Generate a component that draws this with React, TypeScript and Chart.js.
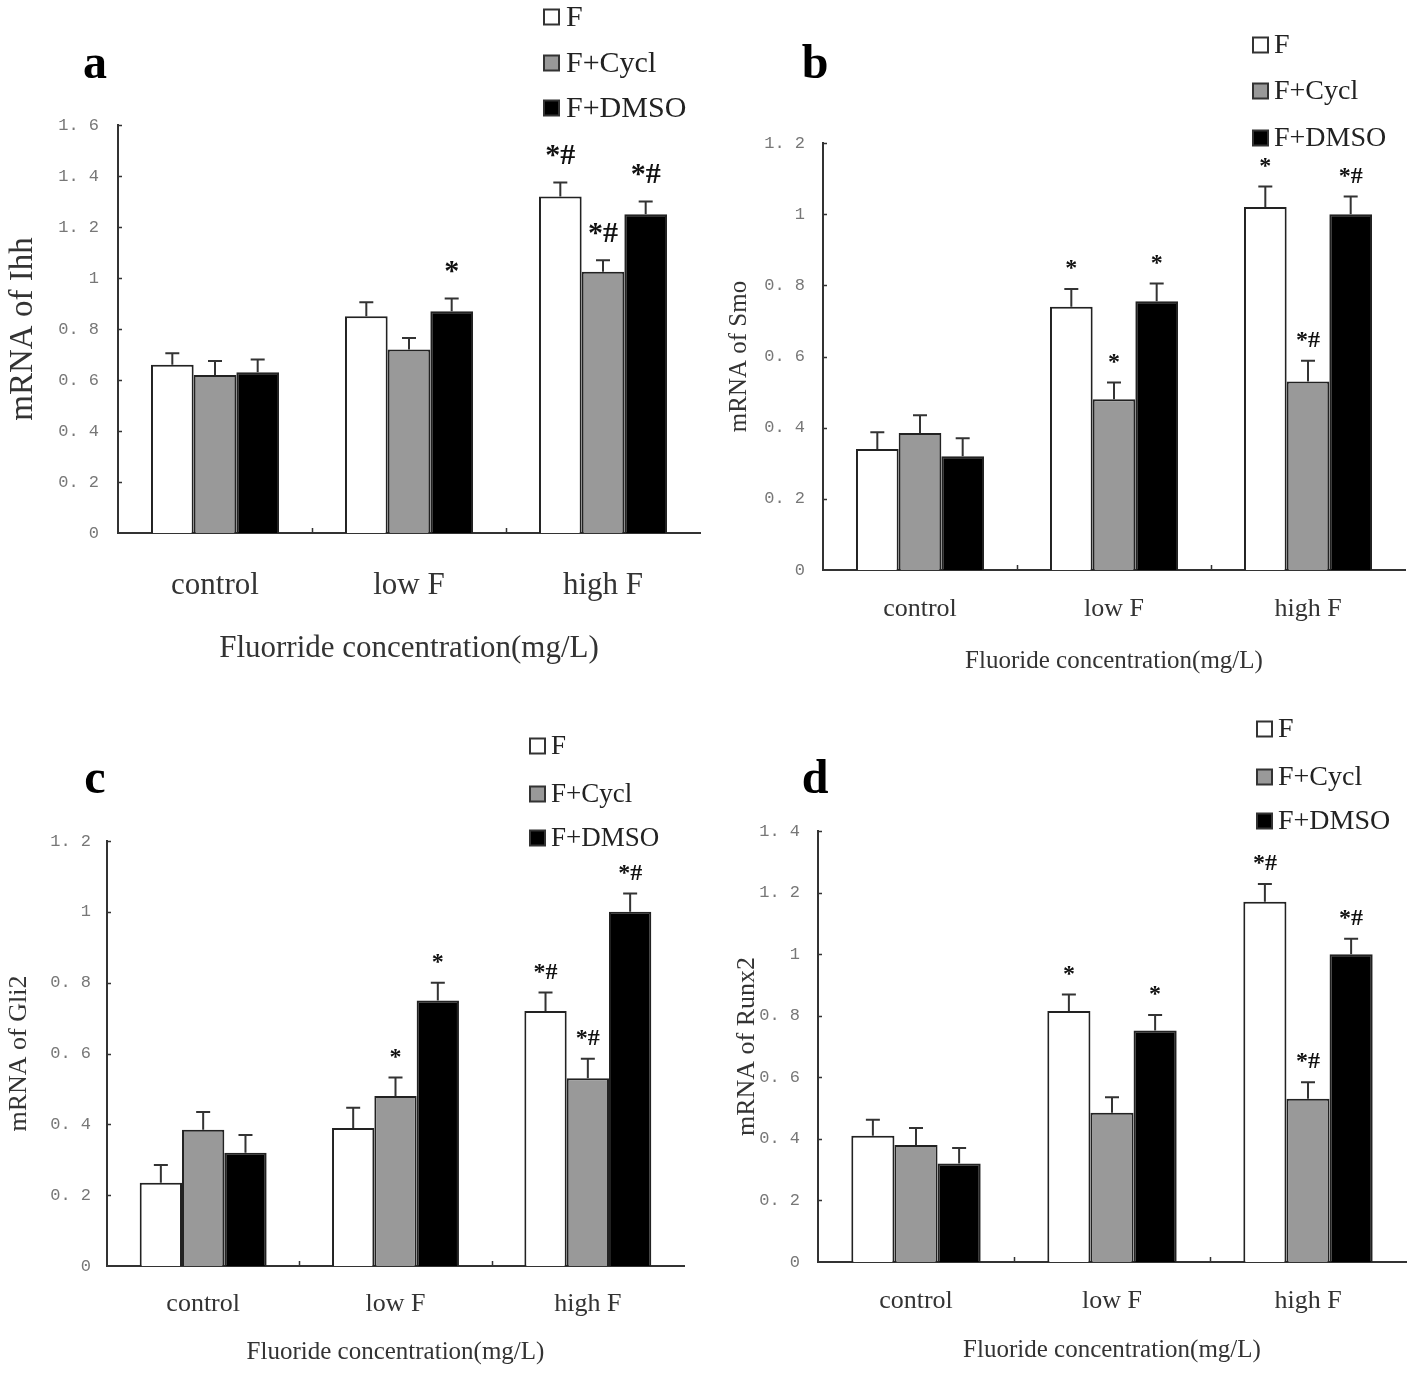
import React, { useEffect, useRef } from "react";
import { Chart, registerables } from "chart.js";

Chart.register(...registerables);

// ---------- data ----------
const categories = ["control", "low F", "high F"];
const seriesLabels = ["F", "F+Cycl", "F+DMSO"];
const seriesColors = ["#ffffff", "#999999", "#000000"];

// a: Ihh
const ihhF = [0.66, 0.85, 1.32];
const ihhCycl = [0.62, 0.72, 1.025];
const ihhDMSO = [0.63, 0.87, 1.25];
const ihhErrF = [0.045, 0.055, 0.055];
const ihhErrCycl = [0.055, 0.045, 0.045];
const ihhErrDMSO = [0.05, 0.05, 0.05];
const ihhMarksF = ["", "", "*#"];
const ihhMarksCycl = ["", "", "*#"];
const ihhMarksDMSO = ["", "*", "*#"];

// b: Smo
const smoF = [0.34, 0.74, 1.02];
const smoCycl = [0.385, 0.48, 0.53];
const smoDMSO = [0.32, 0.755, 1.0];
const smoErrF = [0.047, 0.05, 0.058];
const smoErrCycl = [0.05, 0.047, 0.058];
const smoErrDMSO = [0.05, 0.05, 0.05];
const smoMarksF = ["", "*", "*"];
const smoMarksCycl = ["", "*", "*#"];
const smoMarksDMSO = ["", "*", "*#"];

// c: Gli2
const gli2F = [0.235, 0.39, 0.72];
const gli2Cycl = [0.385, 0.48, 0.53];
const gli2DMSO = [0.32, 0.75, 1.0];
const gli2ErrF = [0.05, 0.057, 0.052];
const gli2ErrCycl = [0.05, 0.052, 0.055];
const gli2ErrDMSO = [0.05, 0.05, 0.052];
const gli2MarksF = ["", "", "*#"];
const gli2MarksCycl = ["", "*", "*#"];
const gli2MarksDMSO = ["", "*", "*#"];

// d: Runx2
const runx2F = [0.41, 0.815, 1.17];
const runx2Cycl = [0.38, 0.485, 0.53];
const runx2DMSO = [0.32, 0.752, 1.0];
const runx2ErrF = [0.052, 0.054, 0.058];
const runx2ErrCycl = [0.055, 0.05, 0.054];
const runx2ErrDMSO = [0.05, 0.05, 0.05];
const runx2MarksF = ["", "*", "*#"];
const runx2MarksCycl = ["", "", "*#"];
const runx2MarksDMSO = ["", "*", "*#"];

const yMaxA = 1.6;
const yMaxB = 1.2;
const yMaxC = 1.2;
const yMaxD = 1.4;
const yStep = 0.2;

// ---------- layout / style ----------
const SERIF = "'Liberation Serif', 'Times New Roman', serif";
const MONO = "'Liberation Mono', 'DejaVu Sans Mono', monospace";
const PW = 709;
const PH = 687;

type PanelCfg = {
  letter: string;
  left: number; top: number;
  area: { left: number; top: number; right: number; bottom: number };
  yMax: number;
  yTitle: string; yTitleSize: number; yTitlePad: number;
  yTickPad: number;
  xTickSize: number; xTickPad: number;
  xTitle: string; xTitleSize: number; xTitlePad: number;
  letterX: number; letterY: number;
  legendBoxX: number; legendTextX: number; legendRows: number[]; legendSize: number;
  markSize: number; markOffset: number;
  values: number[][]; errors: number[][]; marks: string[][];
};

const panels: PanelCfg[] = [
  {
    letter: "a", left: 0, top: 0,
    area: { left: 118, top: 125, right: 700, bottom: 533 },
    yMax: yMaxA,
    yTitle: "mRNA of Ihh", yTitleSize: 33, yTitlePad: 4,
    yTickPad: 19,
    xTickSize: 31, xTickPad: 34,
    xTitle: "Fluorride concentration(mg/L)", xTitleSize: 31, xTitlePad: 20,
    letterX: 95, letterY: 78,
    legendBoxX: 544, legendTextX: 566, legendRows: [17, 63, 108], legendSize: 30,
    markSize: 30, markOffset: 26,
    values: [ihhF, ihhCycl, ihhDMSO],
    errors: [ihhErrF, ihhErrCycl, ihhErrDMSO],
    marks: [ihhMarksF, ihhMarksCycl, ihhMarksDMSO],
  },
  {
    letter: "b", left: 709, top: 0,
    area: { left: 114, top: 143, right: 696, bottom: 570 },
    yMax: yMaxB,
    yTitle: "mRNA of Smo", yTitleSize: 25, yTitlePad: 15,
    yTickPad: 18,
    xTickSize: 26, xTickPad: 24,
    xTitle: "Fluoride concentration(mg/L)", xTitleSize: 25, xTitlePad: 11,
    letterX: 106, letterY: 78,
    legendBoxX: 544, legendTextX: 565, legendRows: [45, 91, 138], legendSize: 28,
    markSize: 24, markOffset: 20,
    values: [smoF, smoCycl, smoDMSO],
    errors: [smoErrF, smoErrCycl, smoErrDMSO],
    marks: [smoMarksF, smoMarksCycl, smoMarksDMSO],
  },
  {
    letter: "c", left: 0, top: 687,
    area: { left: 107, top: 154, right: 684, bottom: 579 },
    yMax: yMaxC,
    yTitle: "mRNA of Gli2", yTitleSize: 26, yTitlePad: 4,
    yTickPad: 16,
    xTickSize: 26, xTickPad: 23,
    xTitle: "Fluoride concentration(mg/L)", xTitleSize: 25, xTitlePad: 7,
    letterX: 95, letterY: 106,
    legendBoxX: 530, legendTextX: 551, legendRows: [59, 107, 151], legendSize: 27,
    markSize: 24, markOffset: 20,
    values: [gli2F, gli2Cycl, gli2DMSO],
    errors: [gli2ErrF, gli2ErrCycl, gli2ErrDMSO],
    marks: [gli2MarksF, gli2MarksCycl, gli2MarksDMSO],
  },
  {
    letter: "d", left: 709, top: 687,
    area: { left: 109, top: 144, right: 697, bottom: 575 },
    yMax: yMaxD,
    yTitle: "mRNA of Runx2", yTitleSize: 26, yTitlePad: 23,
    yTickPad: 18,
    xTickSize: 26, xTickPad: 24,
    xTitle: "Fluoride concentration(mg/L)", xTitleSize: 25, xTitlePad: 9,
    letterX: 106, letterY: 106,
    legendBoxX: 548, legendTextX: 569, legendRows: [42, 90, 134], legendSize: 28,
    markSize: 24, markOffset: 20,
    values: [runx2F, runx2Cycl, runx2DMSO],
    errors: [runx2ErrF, runx2ErrCycl, runx2ErrDMSO],
    marks: [runx2MarksF, runx2MarksCycl, runx2MarksDMSO],
  },
];

function fmtTick(v: number): string {
  if (Math.abs(v) < 1e-9) return "0";
  if (Math.abs(v - Math.round(v)) < 1e-9) return String(Math.round(v));
  return v.toFixed(1).replace(".", ". ");
}

function Panel({ cfg }: { cfg: PanelCfg }) {
  const ref = useRef<HTMLCanvasElement | null>(null);

  useEffect(() => {
    if (!ref.current) return;
    const a = cfg.area;

    const decor = {
      id: "decor_" + cfg.letter,
      afterDatasetsDraw(chart: any) {
        const ctx = chart.ctx as CanvasRenderingContext2D;
        const xs = chart.scales.x;
        const ys = chart.scales.y;
        ctx.save();
        // error bars + significance marks
        chart.data.datasets.forEach((ds: any, di: number) => {
          const meta = chart.getDatasetMeta(di);
          meta.data.forEach((bar: any, i: number) => {
            const v = ds.data[i] as number;
            const e = cfg.errors[di][i];
            const pTop = ys.getPixelForValue(v);
            const pCap = ys.getPixelForValue(v + e);
            ctx.strokeStyle = "#333";
            ctx.lineWidth = 2;
            ctx.beginPath();
            ctx.moveTo(bar.x, pTop);
            ctx.lineTo(bar.x, pCap);
            ctx.moveTo(bar.x - 7, pCap);
            ctx.lineTo(bar.x + 7, pCap);
            ctx.stroke();
            const m = cfg.marks[di][i];
            if (m) {
              ctx.fillStyle = "#111";
              ctx.font = `bold ${cfg.markSize}px ${SERIF}`;
              ctx.textAlign = "center";
              ctx.textBaseline = "middle";
              ctx.fillText(m, bar.x, pCap - cfg.markOffset);
            }
          });
        });
        // inner tick marks on axes
        ctx.strokeStyle = "#333";
        ctx.lineWidth = 1.5;
        ctx.beginPath();
        ys.ticks.forEach((t: any) => {
          if (t.value <= 0) return;
          const py = Math.round(ys.getPixelForValue(t.value)) + 0.5;
          ctx.moveTo(chart.chartArea.left, py);
          ctx.lineTo(chart.chartArea.left + 4, py);
        });
        for (let k = 1; k < categories.length; k++) {
          const px = Math.round(xs.getPixelForValue(k - 0.5)) + 0.5;
          ctx.moveTo(px, chart.chartArea.bottom);
          ctx.lineTo(px, chart.chartArea.bottom - 5);
        }
        ctx.stroke();
        // legend
        chart.data.datasets.forEach((ds: any, di: number) => {
          const ry = cfg.legendRows[di];
          ctx.fillStyle = ds.backgroundColor;
          ctx.fillRect(cfg.legendBoxX, ry - 7.5, 15, 15);
          ctx.strokeStyle = "#333";
          ctx.lineWidth = 2;
          ctx.strokeRect(cfg.legendBoxX, ry - 7.5, 15, 15);
          ctx.fillStyle = "#222";
          ctx.font = `${cfg.legendSize}px ${SERIF}`;
          ctx.textAlign = "left";
          ctx.textBaseline = "middle";
          ctx.fillText(ds.label, cfg.legendTextX, ry + 1);
        });
        // panel letter
        ctx.fillStyle = "#000";
        ctx.font = `bold 48px ${SERIF}`;
        ctx.textAlign = "center";
        ctx.textBaseline = "alphabetic";
        ctx.fillText(cfg.letter, cfg.letterX, cfg.letterY);
        ctx.restore();
      },
    };

    const chart = new Chart(ref.current, {
      type: "bar",
      data: {
        labels: categories,
        datasets: seriesLabels.map((lab, i) => ({
          label: lab,
          data: cfg.values[i],
          backgroundColor: seriesColors[i],
          borderColor: "#222",
          borderWidth: 2,
          borderSkipped: "bottom",
          barPercentage: 1,
          categoryPercentage: 0.66,
        })),
      },
      options: {
        responsive: false,
        animation: false,
        devicePixelRatio: 1,
        layout: {
          padding: { left: 0, top: a.top, right: PW - a.right, bottom: 0 },
        },
        plugins: {
          legend: { display: false },
          title: { display: false },
          tooltip: { enabled: false },
        },
        scales: {
          x: {
            grid: { display: false, drawTicks: false },
            border: { display: true, color: "#333", width: 2 },
            ticks: {
              color: "#333",
              padding: cfg.xTickPad,
              font: { family: SERIF, size: cfg.xTickSize },
              maxRotation: 0,
            },
            title: {
              display: true,
              text: cfg.xTitle,
              color: "#333",
              font: { family: SERIF, size: cfg.xTitleSize },
              padding: { top: 0, bottom: cfg.xTitlePad },
            },
            afterFit: (s: any) => {
              s.height = PH - a.bottom;
            },
          },
          y: {
            min: 0,
            max: cfg.yMax,
            grid: { display: false, drawTicks: false },
            border: { display: true, color: "#333", width: 2 },
            ticks: {
              stepSize: yStep,
              color: "#777",
              padding: cfg.yTickPad,
              font: { family: MONO, size: 17 },
              callback: (v: any) => fmtTick(Number(v)),
            },
            title: {
              display: true,
              text: cfg.yTitle,
              color: "#333",
              font: { family: SERIF, size: cfg.yTitleSize },
              padding: { top: cfg.yTitlePad, bottom: 0 },
            },
            afterFit: (s: any) => {
              s.width = a.left;
            },
          },
        },
      },
      plugins: [decor],
    } as any);

    return () => chart.destroy();
  }, [cfg]);

  return (
    <canvas
      ref={ref}
      width={PW}
      height={PH}
      style={{ position: "absolute", left: cfg.left, top: cfg.top, width: PW, height: PH }}
    />
  );
}

export default function App() {
  return (
    <div
      style={{
        position: "absolute",
        left: 0,
        top: 0,
        width: 1418,
        height: 1374,
        background: "#ffffff",
        overflow: "hidden",
      }}
    >
      {panels.map((p) => (
        <Panel key={p.letter} cfg={p} />
      ))}
    </div>
  );
}
